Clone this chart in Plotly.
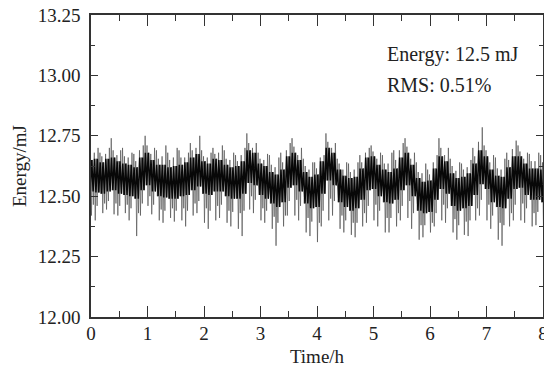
import plotly.graph_objects as go

# Time bins (h), every 0.1 h
hours = [i / 10 for i in range(81)]

# Highest spike in each bin (mJ)
spike_hi = [12.69, 12.70, 12.68, 12.70, 12.74, 12.69, 12.70, 12.68, 12.675, 12.71,
            12.75, 12.70, 12.69, 12.71, 12.68, 12.70, 12.69, 12.68, 12.72, 12.75,
            12.69, 12.68, 12.70, 12.71, 12.69, 12.68, 12.67, 12.70, 12.76, 12.72,
            12.68, 12.675, 12.67, 12.66, 12.68, 12.72, 12.74, 12.70, 12.655, 12.64,
            12.64, 12.67, 12.76, 12.72, 12.655, 12.64, 12.635, 12.64, 12.67, 12.70,
            12.71, 12.68, 12.67, 12.68, 12.69, 12.72, 12.74, 12.68, 12.64, 12.635,
            12.61, 12.67, 12.74, 12.70, 12.655, 12.64, 12.635, 12.65, 12.70, 12.785,
            12.71, 12.67, 12.66, 12.655, 12.68, 12.73, 12.71, 12.68, 12.675, 12.68,
            12.67]

# Typical (secondary) upward spike in each bin (mJ)
spike2_hi = [12.67, 12.68, 12.665, 12.675, 12.69, 12.67, 12.665, 12.66, 12.645, 12.69,
             12.71, 12.675, 12.655, 12.665, 12.65, 12.66, 12.66, 12.66, 12.69, 12.70,
             12.665, 12.66, 12.675, 12.68, 12.655, 12.65, 12.645, 12.67, 12.72, 12.70,
             12.655, 12.65, 12.63, 12.62, 12.64, 12.69, 12.705, 12.67, 12.625, 12.61,
             12.615, 12.66, 12.725, 12.70, 12.635, 12.61, 12.60, 12.61, 12.64, 12.68,
             12.685, 12.655, 12.635, 12.635, 12.65, 12.69, 12.705, 12.655, 12.60, 12.595,
             12.59, 12.64, 12.70, 12.67, 12.625, 12.605, 12.61, 12.62, 12.665, 12.725,
             12.69, 12.64, 12.615, 12.61, 12.65, 12.695, 12.685, 12.655, 12.645, 12.645,
             12.64]

# Upper edge of the dense core band (mJ)
core_hi = [12.65, 12.655, 12.64, 12.655, 12.66, 12.645, 12.635, 12.63, 12.62, 12.66,
           12.68, 12.65, 12.63, 12.63, 12.62, 12.625, 12.63, 12.64, 12.66, 12.675,
           12.645, 12.635, 12.655, 12.65, 12.63, 12.62, 12.625, 12.645, 12.69, 12.68,
           12.635, 12.625, 12.60, 12.59, 12.61, 12.665, 12.68, 12.65, 12.60, 12.58,
           12.59, 12.645, 12.70, 12.68, 12.61, 12.585, 12.575, 12.58, 12.615, 12.66,
           12.665, 12.63, 12.61, 12.60, 12.615, 12.66, 12.68, 12.63, 12.575, 12.56,
           12.565, 12.615, 12.665, 12.645, 12.595, 12.575, 12.58, 12.595, 12.635, 12.69,
           12.665, 12.61, 12.585, 12.58, 12.62, 12.665, 12.665, 12.635, 12.615, 12.615,
           12.61]

# Lower edge of the dense core band (mJ)
core_lo = [12.52, 12.515, 12.51, 12.52, 12.525, 12.51, 12.505, 12.50, 12.49, 12.525,
           12.545, 12.52, 12.50, 12.495, 12.49, 12.49, 12.50, 12.505, 12.525, 12.54,
           12.51, 12.505, 12.52, 12.52, 12.50, 12.49, 12.49, 12.51, 12.555, 12.545,
           12.505, 12.49, 12.47, 12.455, 12.475, 12.535, 12.545, 12.52, 12.47, 12.45,
           12.455, 12.51, 12.565, 12.545, 12.475, 12.455, 12.44, 12.45, 12.485, 12.525,
           12.53, 12.50, 12.475, 12.47, 12.485, 12.525, 12.545, 12.50, 12.44, 12.43,
           12.435, 12.485, 12.53, 12.51, 12.46, 12.44, 12.45, 12.46, 12.505, 12.55,
           12.53, 12.475, 12.455, 12.45, 12.49, 12.53, 12.535, 12.505, 12.485, 12.485,
           12.475]

# Typical (secondary) downward spike in each bin (mJ)
spike2_lo = [12.465, 12.46, 12.47, 12.48, 12.47, 12.46, 12.465, 12.45, 12.43, 12.47,
             12.50, 12.465, 12.445, 12.44, 12.45, 12.44, 12.45, 12.44, 12.47, 12.48,
             12.45, 12.44, 12.46, 12.465, 12.44, 12.435, 12.43, 12.44, 12.50, 12.485,
             12.45, 12.44, 12.415, 12.39, 12.42, 12.48, 12.485, 12.46, 12.41, 12.395,
             12.39, 12.44, 12.49, 12.48, 12.42, 12.40, 12.39, 12.39, 12.43, 12.46,
             12.465, 12.44, 12.41, 12.41, 12.43, 12.46, 12.48, 12.43, 12.38, 12.38,
             12.39, 12.43, 12.465, 12.45, 12.405, 12.38, 12.395, 12.40, 12.45, 12.485,
             12.465, 12.42, 12.39, 12.38, 12.43, 12.465, 12.47, 12.45, 12.43, 12.435,
             12.425]

# Lowest spike in each bin (mJ)
spike_lo = [12.42, 12.40, 12.43, 12.445, 12.425, 12.42, 12.43, 12.40, 12.335, 12.42,
            12.46, 12.425, 12.40, 12.39, 12.41, 12.395, 12.40, 12.375, 12.42, 12.43,
            12.39, 12.365, 12.40, 12.41, 12.39, 12.375, 12.365, 12.335, 12.445, 12.43,
            12.40, 12.39, 12.365, 12.295, 12.375, 12.42, 12.42, 12.40, 12.35, 12.335,
            12.31, 12.375, 12.40, 12.42, 12.365, 12.35, 12.34, 12.33, 12.375, 12.39,
            12.40, 12.375, 12.35, 12.35, 12.375, 12.40, 12.41, 12.365, 12.32, 12.33,
            12.35, 12.375, 12.40, 12.39, 12.35, 12.32, 12.34, 12.335, 12.40, 12.42,
            12.40, 12.365, 12.32, 12.295, 12.375, 12.40, 12.40, 12.39, 12.375, 12.38,
            12.375]

x_ticks = [0, 1, 2, 3, 4, 5, 6, 7, 8]
y_ticks = [12.00, 12.25, 12.50, 12.75, 13.00, 13.25]
notes = ["Energy: 12.5 mJ", "RMS: 0.51%"]

FONT = "Liberation Serif"

# spike trace: walk through each bin's spikes (order alternates bin to bin)
gx, gy = [], []
offs = [-0.0417, -0.025, -0.0083, 0.0083, 0.025, 0.0417]
for i, h in enumerate(hours):
    if i % 2 == 0:
        vals = (spike_hi[i], core_lo[i], spike2_hi[i], spike_lo[i], core_hi[i], spike2_lo[i])
    else:
        vals = (spike2_hi[i], spike_lo[i], core_hi[i], spike2_lo[i], spike_hi[i], core_lo[i])
    for off, v in zip(offs, vals):
        gx.append(h + off)
        gy.append(v)

# dense core: jagged black line between the core edges
kx, ky = [], []
for h, a, b in zip(hours, core_hi, core_lo):
    kx += [h - 0.0375, h - 0.0125, h + 0.0125, h + 0.0375]
    ky += [a, b, a, b]

fig = go.Figure()
fig.add_trace(go.Scatter(x=gx, y=gy, mode="lines",
                         line=dict(color="#555555", width=0.7),
                         hoverinfo="skip", showlegend=False))
fig.add_trace(go.Scatter(x=kx, y=ky, mode="lines",
                         line=dict(color="#080808", width=1.5),
                         hoverinfo="skip", showlegend=False))

for i, txt in enumerate(notes):
    fig.add_annotation(x=0.651, y=0.868 - i * 0.1, xref="paper", yref="paper",
                       text=txt, showarrow=False, xanchor="left", yanchor="middle",
                       font=dict(family=FONT, size=20, color="#222"))

axis_common = dict(showgrid=False, zeroline=False, showline=True, automargin=False,
                   linecolor="#333", linewidth=1.6, mirror="ticks",
                   ticks="inside", tickcolor="#333", tickwidth=1.4,
                   ticklabeloverflow="allow",
                   tickfont=dict(family=FONT, size=19, color="#222"))

fig.update_xaxes(range=[0, 8], tickvals=x_ticks, ticklen=11, ticklabelstandoff=-2,
                 minor=dict(dtick=0.5, ticks="inside", ticklen=6, tickcolor="#333", tickwidth=1.4),
                 title=dict(text="Time/h", font=dict(family=FONT, size=19, color="#222"), standoff=7),
                 **axis_common)
fig.update_yaxes(range=[12.0, 13.25], tickvals=y_ticks, tickformat=".2f", ticklen=7,
                 ticklabelstandoff=5,
                 minor=dict(dtick=0.125, ticks="inside", ticklen=4, tickcolor="#333", tickwidth=1.4),
                 title=dict(text="Energy/mJ", font=dict(family=FONT, size=19, color="#222"), standoff=6),
                 **axis_common)

fig.update_layout(width=544, height=370,
                  margin=dict(l=91, r=1, t=15, b=53),
                  paper_bgcolor="white", plot_bgcolor="white")

fig.write_html("out.html", config={"displayModeBar": False},
               post_script="document.body.style.margin='0';document.body.style.overflow='hidden';")
